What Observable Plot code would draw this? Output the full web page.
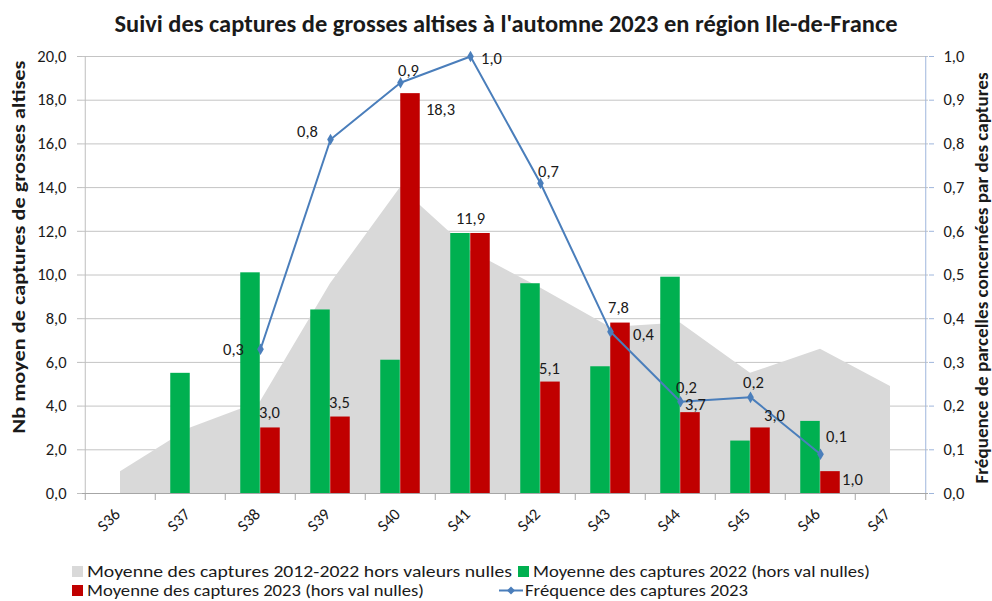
<!DOCTYPE html>
<html>
<head>
<meta charset="utf-8">
<script src="https://cdn.jsdelivr.net/npm/d3@7"></script>
<script src="https://cdn.jsdelivr.net/npm/@observablehq/plot@0.6"></script>
<style>
  body { margin: 0; background: #fff; }
  #wrap { position: relative; width: 992px; height: 601px; overflow: hidden; background: #fff;
          font-family: Carlito, Lato, "Liberation Sans", Arial, sans-serif; color: #1a1a1a; }
  #chart { position: absolute; left: 0; top: 40px; }
  #overlay { position: absolute; left: 0; top: 0; pointer-events: none; }
</style>
</head>
<body>
<div id="wrap">
  <div id="chart"></div>
</div>
<script>
// ---- data ----
const weeks = ["S36","S37","S38","S39","S40","S41","S42","S43","S44","S45","S46","S47"];
const moyenne2012_2022 = [1.0, 3.0, 4.2, 9.6, 14.0, 11.1, 9.4, 7.6, 7.8, 5.5, 6.6, 4.9];
const captures2022 = [null, 5.5, 10.1, 8.4, 6.1, 11.9, 9.6, 5.8, 9.9, 2.4, 3.3, null];
const captures2023 = [null, null, 3.0, 3.5, 18.3, 11.9, 5.1, 7.8, 3.7, 3.0, 1.0, null];
const frequence2023 = [null, null, 0.33, 0.81, 0.94, 1.0, 0.71, 0.37, 0.21, 0.22, 0.09, null];
const yTicks = [0, 2, 4, 6, 8, 10, 12, 14, 16, 18, 20];
const freqTicks = [0, 0.1, 0.2, 0.3, 0.4, 0.5, 0.6, 0.7, 0.8, 0.9, 1.0];

const titleText = "Suivi des captures de grosses altises à l'automne 2023 en région Ile-de-France";
const yLeftTitle = "Nb moyen de captures de grosses altises";
const yRightTitle = "Fréquence de parcelles concernées par des captures";
const seriesNames = {
  avg: "Moyenne des captures 2012-2022 hors valeurs nulles",
  g: "Moyenne des captures 2022 (hors val nulles)",
  r: "Moyenne des captures 2023 (hors val nulles)",
  f: "Fréquence des captures 2023"
};
const colors = { avg: "#d9d9d9", g: "#00b050", r: "#c00000", f: "#4a7ebb" };

// label placement (styling, pixel offsets)
const redLabelPlace = {
  S38: [-1, -15], S39: [-1, -14], S40: [30, 16], S41: [-10, -15], S42: [-1, -13],
  S43: [-2, -15], S44: [5, -8], S45: [14, -12], S46: [22, 8]
};
const freqLabelPlace = {
  S38: [-27, 0], S39: [-23, -8], S40: [8, -12], S41: [21, 2], S42: [8, -12],
  S43: [33, 3], S44: [6, -14], S45: [3, -15], S46: [16, -17]
};

const rows = weeks.map((w, i) => ({
  week: w, avg: moyenne2012_2022[i], g: captures2022[i], r: captures2023[i], f: frequence2023[i]
}));
const fmt = v => v.toFixed(1).replace(".", ",");
const yMax = yTicks[yTicks.length - 1];
const fMax = freqTicks[freqTicks.length - 1];
const k = yMax / fMax; // right axis mapped onto the left scale

const W = 992, H = 520, mL = 82, mR = 64, mT = 16, mB = 67;
const bw = (W - mL - mR) / weeks.length;
const barW = 20;
const font = 'Carlito, Lato, "Liberation Sans", Arial, sans-serif';
const fs = 16.5;

const redRows = rows.filter(d => d.r != null);
const freqRows = rows.filter(d => d.f != null);

const marks = [
  Plot.ruleY(yTicks, { stroke: "#c4c4c4", strokeWidth: 1 }),
  Plot.areaY(rows, { x: "week", y: "avg", fill: colors.avg, curve: "linear" }),
  Plot.barY(rows, { x: "week", y: "g", fill: colors.g, insetLeft: bw / 2 - barW, insetRight: bw / 2 }),
  Plot.barY(rows, { x: "week", y: "r", fill: colors.r, insetLeft: bw / 2, insetRight: bw / 2 - barW }),
  Plot.ruleY([0], { stroke: "#a6a6a6" }),
  Plot.ruleX([weeks[0]], { dx: -bw / 2, stroke: "#bfbfbf" }),
  Plot.ruleX([weeks[weeks.length - 1]], { dx: bw / 2, stroke: "#9fb6dc" }),
  Plot.ruleX(weeks, { dx: -bw / 2, y1: 0, y2: 0, insetBottom: -7, stroke: "#a6a6a6" }),
  Plot.ruleX([weeks[weeks.length - 1]], { dx: bw / 2, y1: 0, y2: 0, insetBottom: -7, stroke: "#a6a6a6" }),
  Plot.axisY({ anchor: "left", ticks: yTicks, tickSize: 5, tickPadding: 11, tickFormat: fmt,
               stroke: "#bfbfbf", fill: "#1a1a1a", fontSize: fs, label: null }),
  Plot.axisY({ anchor: "right", ticks: freqTicks.map(t => t * k), tickSize: 5, tickPadding: 10,
               tickFormat: d => fmt(d / k), stroke: "#9fb6dc", fill: "#1a1a1a", fontSize: fs, label: null }),
  Plot.axisX({ tickSize: 0, tickPadding: 18, tickRotate: -45, dx: -3, fill: "#1a1a1a", fontSize: fs, label: null }),
  Plot.line(freqRows, { x: "week", y: d => d.f * k, stroke: colors.f, strokeWidth: 2 }),
  Plot.dot(freqRows, { x: "week", y: d => d.f * k, symbol: "diamond", r: 3.5, fill: colors.f })
];

for (const d of redRows) {
  const [dx, dy] = redLabelPlace[d.week] || [0, -14];
  marks.push(Plot.text([d], { x: "week", y: "r", text: v => fmt(v.r), dx: barW / 2 + dx, dy,
    fontSize: fs, fill: "#1a1a1a" }));
}
for (const d of freqRows) {
  const [dx, dy] = freqLabelPlace[d.week] || [8, -12];
  marks.push(Plot.text([d], { x: "week", y: v => v.f * k, text: v => fmt(v.f), dx, dy,
    fontSize: fs, fill: "#1a1a1a" }));
}

const chart = Plot.plot({
  width: W, height: H,
  marginLeft: mL, marginRight: mR, marginTop: mT, marginBottom: mB,
  style: { fontFamily: font, fontSize: fs + "px", background: "transparent", overflow: "visible" },
  x: { domain: weeks, padding: 0, axis: null },
  y: { domain: [0, yMax], axis: null },
  marks
});
document.getElementById("chart").appendChild(chart);

// ---- overlay: title, axis titles, legend ----
const svg = d3.select("#wrap").append("svg").attr("id", "overlay")
  .attr("width", 992).attr("height", 601)
  .style("font-family", font).style("fill", "#1a1a1a");

svg.append("text").attr("x", 506).attr("y", 32).attr("text-anchor", "middle")
  .attr("font-size", 24).attr("font-weight", "bold")
  .attr("textLength", 783).attr("lengthAdjust", "spacingAndGlyphs").text(titleText);

svg.append("text").attr("transform", "translate(25,247) rotate(-90)").attr("text-anchor", "middle")
  .attr("font-size", 17.5).attr("font-weight", "bold")
  .attr("textLength", 373).attr("lengthAdjust", "spacingAndGlyphs").text(yLeftTitle);

svg.append("text").attr("transform", "translate(988,278) rotate(-90)").attr("text-anchor", "middle")
  .attr("font-size", 17.5).attr("font-weight", "bold")
  .attr("textLength", 411).attr("lengthAdjust", "spacingAndGlyphs").text(yRightTitle);

const lg = svg.append("g").attr("font-size", 17);
function item(x, y, key, len, swatch) {
  if (swatch === "rect") {
    lg.append("rect").attr("x", x).attr("y", y - 11).attr("width", 11).attr("height", 11).attr("fill", colors[key]);
    lg.append("text").attr("x", x + 15).attr("y", y).attr("textLength", len)
      .attr("lengthAdjust", "spacingAndGlyphs").text(seriesNames[key]);
  } else {
    lg.append("line").attr("x1", x).attr("x2", x + 24).attr("y1", y - 5.5).attr("y2", y - 5.5)
      .attr("stroke", colors[key]).attr("stroke-width", 2);
    lg.append("path").attr("d", `M${x + 12},${y - 9.5}L${x + 16},${y - 5.5}L${x + 12},${y - 1.5}L${x + 8},${y - 5.5}Z`)
      .attr("fill", colors[key]);
    lg.append("text").attr("x", x + 26).attr("y", y).attr("textLength", len)
      .attr("lengthAdjust", "spacingAndGlyphs").text(seriesNames[key]);
  }
}
item(72, 577, "avg", 425, "rect");
item(518, 577, "g", 337, "rect");
item(72, 596, "r", 337, "rect");
item(499, 596, "f", 223, "line");
</script>
</body>
</html>
